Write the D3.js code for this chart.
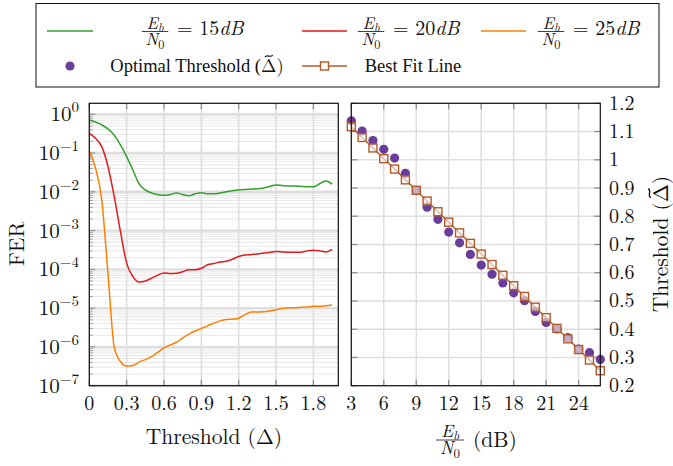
<!DOCTYPE html>
<html><head><meta charset="utf-8">
<script src="https://cdn.jsdelivr.net/npm/d3@7"></script>
<style>body{margin:0;background:#fff;}</style></head>
<body><svg id="c" width="673" height="466"></svg>
<script>
// ---------- data ----------
const thresholds = [0,0.05,0.1,0.15,0.2,0.25,0.3,0.35,0.4,0.45,0.5,0.55,0.6,0.65,0.7,0.75,0.8,0.85,0.9,0.95,
  1.0,1.05,1.1,1.15,1.2,1.25,1.3,1.35,1.4,1.45,1.5,1.55,1.6,1.65,1.7,1.75,1.8,1.85,1.9,1.95];
const fer15 = [0.71,0.63,0.53,0.42,0.29,0.162,0.081,0.0366,0.016,0.0112,0.0093,0.0085,0.0081,0.0085,0.0093,0.0085,0.0079,0.0089,0.0095,0.0089,
  0.0089,0.0093,0.0100,0.0107,0.0112,0.0115,0.0117,0.0120,0.0126,0.0138,0.0151,0.0145,0.0141,0.0141,0.0138,0.0135,0.0135,0.0162,0.019,0.0158];
const fer20 = [0.32,0.24,0.146,0.045,0.0076,9.5e-4,1.45e-4,6.5e-5,4.7e-5,5.0e-5,5.9e-5,7.1e-5,8.1e-5,7.8e-5,7.9e-5,8.7e-5,9.8e-5,9.8e-5,1.07e-4,1.32e-4,
  1.41e-4,1.55e-4,1.62e-4,1.82e-4,2.14e-4,2.34e-4,2.4e-4,2.5e-4,2.63e-4,2.75e-4,2.88e-4,2.82e-4,2.75e-4,2.75e-4,2.75e-4,3.0e-4,3.1e-4,3.0e-4,2.82e-4,3.3e-4];
const fer25 = [0.115,0.041,0.0062,7.9e-5,1.0e-6,4.2e-7,3.2e-7,3.3e-7,4.1e-7,4.7e-7,5.6e-7,7.2e-7,9.5e-7,1.12e-6,1.32e-6,1.7e-6,2.14e-6,2.57e-6,3.0e-6,3.5e-6,
  4.1e-6,4.7e-6,5.1e-6,5.2e-6,5.5e-6,6.8e-6,7.9e-6,7.9e-6,8.1e-6,8.5e-6,9.1e-6,9.8e-6,1.02e-5,1.02e-5,1.05e-5,1.07e-5,1.12e-5,1.12e-5,1.15e-5,1.2e-5];
const snrDb = [3,4,5,6,7,8,9,10,11,12,13,14,15,16,17,18,19,20,21,22,23,24,25,26];
const optThreshold = [1.138,1.102,1.068,1.037,1.006,0.952,0.891,0.832,0.789,0.744,0.706,0.665,0.627,0.595,0.564,0.529,0.501,0.463,0.424,0.401,0.370,0.330,0.317,0.293];
const fitThreshold = [1.117,1.079,1.042,1.004,0.967,0.929,0.892,0.854,0.816,0.779,0.741,0.704,0.666,0.629,0.591,0.554,0.516,0.478,0.441,0.403,0.366,0.328,0.291,0.253];
const leftXTicks = [0,0.3,0.6,0.9,1.2,1.5,1.8];
const leftYExponents = [0,-1,-2,-3,-4,-5,-6,-7];
const rightXTicks = [3,6,9,12,15,18,21,24];
const rightYTicks = [1.2,1.1,1,0.9,0.8,0.7,0.6,0.5,0.4,0.3,0.2];
const curveSeries = [
  {snr:"15", values:fer15, color:"#33a02c"},
  {snr:"20", values:fer20, color:"#e31a1c"},
  {snr:"25", values:fer25, color:"#ff7f00"}
];
const purple = "#6a3d9a", brown = "#b15928";

// ---------- setup ----------
const LM = "'Latin Modern Roman','Liberation Serif',serif";
const TIMES = "'Liberation Serif','Times New Roman',serif";
const svg = d3.select("#c");
const TOP = 103.3, BOT = 385.7;
const xL = d3.scaleLinear([0,2],[89.3,338.3]);
const yL = d3.scaleLog([1e-7, Math.pow(10,0.283)],[BOT,TOP]);
const xR = d3.scaleLinear([3,26],[351.3,600.3]);
const yR = d3.scaleLinear([0.2,1.2],[BOT,TOP]);
const tickCol = "#8a8a8a";
const TICK = 20, LAB = 21.5;

function txt(g, font){ return g.append("text").attr("font-family",font||LM).attr("fill","#111"); }

// E_b over N_0 as one text element (two chunks)
function frac(g, cx, barY, size){
  const f = g.append("g");
  const t = txt(f).attr("text-anchor","middle").style("font-size",size+"px");
  t.append("tspan").attr("x",cx).attr("y",barY-3).style("font-style","italic").text("E");
  t.append("tspan").attr("dy",size*0.18).style("font-size",(size*0.72)+"px").style("font-style","italic").text("b");
  t.append("tspan").attr("x",cx).attr("y",barY+size*0.8).style("font-style","italic").text("N");
  t.append("tspan").attr("dy",size*0.2).style("font-size",(size*0.72)+"px").text("0");
  f.append("line").attr("x1",cx-size*0.78).attr("x2",cx+size*0.78).attr("y1",barY).attr("y2",barY)
    .attr("stroke","#111").attr("stroke-width",0.8);
}

function deltaTilde(g, x, y, size, prefix, font){
  const t = txt(g, font).attr("x",x).attr("y",y).attr("text-anchor","middle").style("font-size",size+"px");
  t.append("tspan").text(prefix + "(");
  t.append("tspan").attr("font-family",LM).text("\u0394");
  t.append("tspan").attr("font-family",LM).text(")");
  const node = t.node();
  const total = node.getComputedTextLength();
  const pre = node.getSubStringLength(0, prefix.length+1);
  const dl = node.getSubStringLength(prefix.length+1, 1);
  const cx = x - total/2 + pre + dl/2;
  const ty = y - size*0.86, w = size*0.42, a = size*0.06;
  g.append("path")
    .attr("d",`M${cx-w/2},${ty+a} C${cx-w/4},${ty-2.2*a} ${cx+w/4},${ty+2.2*a} ${cx+w/2},${ty-a}`)
    .attr("fill","none").attr("stroke","#111").attr("stroke-width",size*0.06);
}

// ---------- left plot ----------
const gL = svg.append("g");
for(let e=-7;e<=0;e++){
  for(let m=2;m<=9;m++){
    const v=m*Math.pow(10,e);
    if(v>yL.domain()[1]) continue;
    gL.append("line").attr("x1",xL(0)).attr("x2",xL(2)).attr("y1",yL(v)).attr("y2",yL(v))
      .attr("stroke","#e3e3e3").attr("stroke-width",0.9);
    gL.append("line").attr("x1",xL(0)).attr("x2",xL(0)+3.5).attr("y1",yL(v)).attr("y2",yL(v))
      .attr("stroke",tickCol).attr("stroke-width",0.8);
  }
}
leftYExponents.forEach(e=>{
  const v=Math.pow(10,e);
  gL.append("line").attr("x1",xL(0)).attr("x2",xL(2)).attr("y1",yL(v)).attr("y2",yL(v))
    .attr("stroke","#dedede").attr("stroke-width",2.4);
  gL.append("line").attr("x1",xL(0)).attr("x2",xL(0)+6).attr("y1",yL(v)).attr("y2",yL(v))
    .attr("stroke",tickCol).attr("stroke-width",1);
  const t=txt(gL).attr("x",79).attr("y",yL(v)+7).attr("text-anchor","end").style("font-size",(TICK+1)+"px");
  t.append("tspan").text("10");
  t.append("tspan").attr("dy",-9).style("font-size","15px").text(e===0?"0":"\u2212"+(-e));
});
leftXTicks.forEach(v=>{
  gL.append("line").attr("x1",xL(v)).attr("x2",xL(v)).attr("y1",TOP).attr("y2",BOT)
    .attr("stroke","#dedede").attr("stroke-width",1.6);
  gL.append("line").attr("x1",xL(v)).attr("x2",xL(v)).attr("y1",TOP).attr("y2",TOP+6).attr("stroke",tickCol).attr("stroke-width",1.2);
  gL.append("line").attr("x1",xL(v)).attr("x2",xL(v)).attr("y1",BOT).attr("y2",BOT-6).attr("stroke",tickCol).attr("stroke-width",1.2);
  txt(gL).attr("x",xL(v)).attr("y",410).attr("text-anchor","middle").style("font-size",TICK+"px").text(String(v));
});
const lineL = d3.line().x((d,i)=>xL(thresholds[i])).y(d=>yL(d)).curve(d3.curveMonotoneX);
curveSeries.forEach(s=>{
  gL.append("path").attr("d",lineL(s.values)).attr("fill","none").attr("stroke",s.color).attr("stroke-width",1.5);
});
gL.append("rect").attr("x",xL(0)).attr("y",TOP).attr("width",xL(2)-xL(0)).attr("height",BOT-TOP)
  .attr("fill","none").attr("stroke","#111").attr("stroke-width",1.2);
txt(svg).attr("transform","translate(24,244) rotate(-90)").attr("text-anchor","middle")
  .style("font-size",LAB+"px").text("FER");
txt(svg).attr("x",214).attr("y",444).attr("text-anchor","middle").style("font-size",LAB+"px").text("Threshold (\u0394)");

// ---------- right plot ----------
const gR = svg.append("g");
rightYTicks.forEach(v=>{
  gR.append("line").attr("x1",xR(3)).attr("x2",xR(26)).attr("y1",yR(v)).attr("y2",yR(v))
    .attr("stroke","#dedede").attr("stroke-width",1.5);
  gR.append("line").attr("x1",xR(3)).attr("x2",xR(3)+6).attr("y1",yR(v)).attr("y2",yR(v)).attr("stroke",tickCol).attr("stroke-width",1.2);
  gR.append("line").attr("x1",xR(26)).attr("x2",xR(26)-6).attr("y1",yR(v)).attr("y2",yR(v)).attr("stroke",tickCol).attr("stroke-width",1.2);
  txt(gR).attr("x",609).attr("y",yR(v)+6.5).attr("text-anchor","start").style("font-size",TICK+"px").text(String(v));
});
rightXTicks.forEach(v=>{
  gR.append("line").attr("x1",xR(v)).attr("x2",xR(v)).attr("y1",TOP).attr("y2",BOT)
    .attr("stroke","#dedede").attr("stroke-width",1.5);
  gR.append("line").attr("x1",xR(v)).attr("x2",xR(v)).attr("y1",TOP).attr("y2",TOP+6).attr("stroke",tickCol).attr("stroke-width",1.2);
  gR.append("line").attr("x1",xR(v)).attr("x2",xR(v)).attr("y1",BOT).attr("y2",BOT-6).attr("stroke",tickCol).attr("stroke-width",1.2);
  txt(gR).attr("x",xR(v)).attr("y",410).attr("text-anchor","middle").style("font-size",TICK+"px").text(String(v));
});
gR.selectAll("circle.opt").data(optThreshold).enter().append("circle")
  .attr("cx",(d,i)=>xR(snrDb[i])).attr("cy",d=>yR(d)).attr("r",4.6).attr("fill",purple);
const lineR = d3.line().x((d,i)=>xR(snrDb[i])).y(d=>yR(d));
gR.append("path").attr("d",lineR(fitThreshold)).attr("fill","none").attr("stroke",brown).attr("stroke-width",1.4);
gR.selectAll("rect.fit").data(fitThreshold).enter().append("rect")
  .attr("x",(d,i)=>xR(snrDb[i])-4).attr("y",d=>yR(d)-4).attr("width",8).attr("height",8)
  .attr("fill","rgba(255,255,255,0.55)").attr("stroke",brown).attr("stroke-width",1.4);
gR.append("rect").attr("x",xR(3)).attr("y",TOP).attr("width",xR(26)-xR(3)).attr("height",BOT-TOP)
  .attr("fill","none").attr("stroke","#111").attr("stroke-width",1.2);
frac(svg, 450, 440, 18);
txt(svg).attr("x",473).attr("y",447).style("font-size",LAB+"px").text("(dB)");
const gy = svg.append("g").attr("transform","translate(668,244) rotate(-90)");
deltaTilde(gy, 0, 0, LAB, "Threshold ");

// ---------- legend ----------
const lg = svg.append("g");
lg.append("rect").attr("x",36).attr("y",3.5).attr("width",623).attr("height",83.5)
  .attr("fill","#fff").attr("stroke","#111").attr("stroke-width",1);
const cols = [{img:[47,93], c:197},{img:[302,347], c:413},{img:[481,526], c:593}];
const row1 = 31, row2 = 66;
curveSeries.forEach((s,i)=>{
  const col = cols[i];
  lg.append("line").attr("x1",col.img[0]).attr("x2",col.img[1]).attr("y1",row1).attr("y2",row1)
    .attr("stroke",s.color).attr("stroke-width",1.5);
  frac(lg, col.c-42, row1+0.5, 17);
  const t = txt(lg).attr("x",col.c-20).attr("y",row1+3.5).style("font-size","20px");
  t.append("tspan").text("= "+s.snr);
  t.append("tspan").style("font-style","italic").text("dB");
});
lg.append("circle").attr("cx",70).attr("cy",row2).attr("r",4.6).attr("fill",purple);
deltaTilde(lg, cols[0].c, row2+6, 18.5, "Optimal Threshold ", TIMES);
lg.append("line").attr("x1",cols[1].img[0]).attr("x2",cols[1].img[1]).attr("y1",row2).attr("y2",row2)
  .attr("stroke",brown).attr("stroke-width",1.4);
lg.append("rect").attr("x",(cols[1].img[0]+cols[1].img[1])/2-4).attr("y",row2-4).attr("width",8).attr("height",8)
  .attr("fill","#fff").attr("stroke",brown).attr("stroke-width",1.4);
txt(lg, TIMES).attr("x",cols[1].c).attr("y",row2+6).attr("text-anchor","middle").style("font-size","18.5px").text("Best Fit Line");
</script></body></html>
